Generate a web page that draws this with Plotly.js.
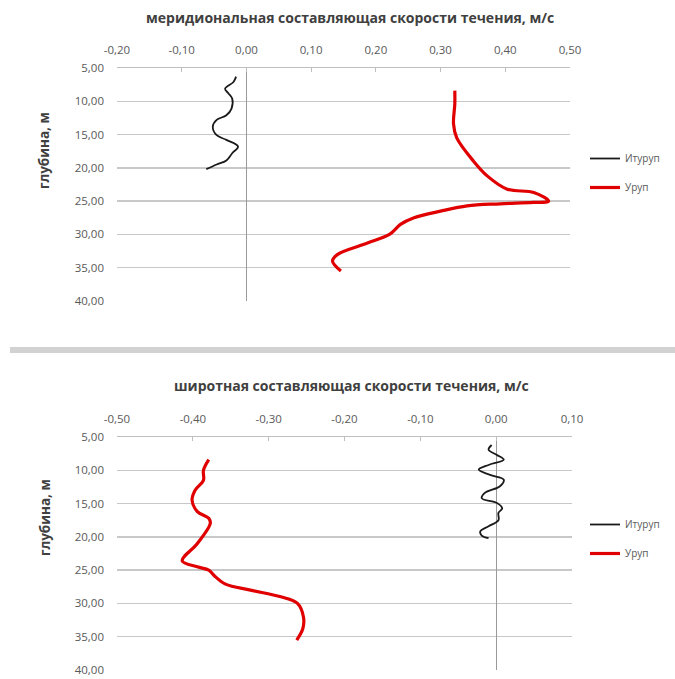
<!DOCTYPE html>
<html>
<head>
<meta charset="utf-8">
<script src="https://cdn.plot.ly/plotly-3.0.1.min.js"></script>
<style>
  html, body { margin: 0; padding: 0; background: #fff; }
  #chart { width: 675px; height: 679px; }
</style>
</head>
<body>
<div id="chart"></div>
<script>
// Meridional component (top panel): depth, m and speed, m/s
const merIturupDepth = [6.3, 7.1, 8.1, 8.8, 9.6, 11.1, 12.1, 12.8, 13.8, 15.1, 15.8, 16.8, 17.8, 18.9, 19.5, 20.2];
const merIturupSpeed = [-0.016, -0.020, -0.033, -0.028, -0.022, -0.023, -0.031, -0.046, -0.052, -0.046, -0.031, -0.013, -0.022, -0.031, -0.046, -0.062];

const merUrupDepth = [8.4, 10.4, 13.4, 15.5, 19.0, 21.2, 23.2, 23.7, 25.0, 25.2, 25.4, 25.7, 26.5, 27.5, 28.5, 30.0, 31.3, 33.0, 34.0, 35.5];
const merUrupSpeed = [0.322, 0.322, 0.320, 0.325, 0.351, 0.372, 0.403, 0.444, 0.467, 0.443, 0.392, 0.341, 0.300, 0.259, 0.238, 0.221, 0.187, 0.141, 0.133, 0.146];

// Zonal component (bottom panel)
const zonIturupDepth = [6.2, 6.9, 7.7, 8.4, 9.2, 9.9, 10.7, 11.4, 12.4, 13.4, 14.2, 14.9, 15.7, 16.4, 17.5, 18.4, 19.2, 19.8, 20.2];
const zonIturupSpeed = [-0.006, -0.010, 0.001, 0.010, -0.010, -0.023, -0.008, 0.010, 0.005, -0.015, -0.019, 0.001, 0.008, 0.003, 0.003, -0.010, -0.021, -0.019, -0.010];

const zonUrupDepth = [8.4, 10.0, 11.5, 13.0, 14.5, 16.2, 17.2, 18.0, 21.0, 23.6, 24.5, 25.0, 25.8, 27.1, 28.0, 29.0, 30.0, 32.1, 33.8, 35.5];
const zonUrupSpeed = [-0.379, -0.386, -0.386, -0.397, -0.401, -0.394, -0.379, -0.377, -0.394, -0.414, -0.394, -0.379, -0.372, -0.357, -0.324, -0.284, -0.262, -0.254, -0.255, -0.263];

const seriesNames = ['Итуруп', 'Уруп'];
const merTicks = [-0.2, -0.1, 0.0, 0.1, 0.2, 0.3, 0.4, 0.5];
const zonTicks = [-0.5, -0.4, -0.3, -0.2, -0.1, 0.0, 0.1];
const depthTicks = [5, 10, 15, 20, 25, 30, 35, 40];

const titleTop = 'меридиональная составляющая скорости течения, м/с';
const titleBottom = 'широтная составляющая скорости течения, м/с';
const depthTitle = 'глубина, м';

const fmt = v => v.toFixed(2).replace('.', ',');

const W = 675, H = 679;
const px = x => x / W;
const py = y => 1 - y / H;

const FONT = 'Open Sans, DejaVu Sans, sans-serif';
const tickFont = {family: FONT, size: 11.5, color: '#595959'};

function line(x, y, name, color, width, xa, ya, legend, group) {
  return {
    type: 'scatter', mode: 'lines', x: x, y: y, name: name,
    xaxis: xa, yaxis: ya, legend: legend, legendgroup: group,
    line: {color: color, width: width, shape: 'spline', smoothing: 1.0},
    hoverinfo: 'skip'
  };
}

const traces = [
  line(merIturupSpeed, merIturupDepth, seriesNames[0], '#1a1a1a', 1.8, 'x', 'y', 'legend', 'a'),
  line(merUrupSpeed, merUrupDepth, seriesNames[1], '#e00000', 3.2, 'x', 'y', 'legend', 'b'),
  line(zonIturupSpeed, zonIturupDepth, seriesNames[0], '#1a1a1a', 1.8, 'x2', 'y2', 'legend2', 'a'),
  line(zonUrupSpeed, zonUrupDepth, seriesNames[1], '#e00000', 3.2, 'x2', 'y2', 'legend2', 'b')
];

function xAxis(range, ticks, domain, anchor) {
  return {
    domain: domain, anchor: anchor, side: 'top', range: range,
    tickvals: ticks, ticktext: ticks.map(fmt), tickfont: tickFont,
    showgrid: false, zeroline: true, zerolinecolor: '#9a9a9a', zerolinewidth: 1,
    showline: true, linecolor: '#bfbfbf', linewidth: 1.5,
    ticks: 'inside', ticklen: 4, tickcolor: '#bfbfbf', ticklabelstandoff: 8,
    fixedrange: true
  };
}

function yAxis(domain, anchor) {
  return {
    domain: domain, anchor: anchor, range: [40, 5], autorange: false,
    tickvals: depthTicks, ticktext: depthTicks.map(fmt), tickfont: tickFont,
    showgrid: true, gridcolor: '#c8c8c8', gridwidth: 1.5,
    zeroline: false, showline: false, ticks: '', ticklabelstandoff: 12,
    fixedrange: true
  };
}

function legend(topY) {
  return {
    x: px(585), y: py(topY), xanchor: 'left', yanchor: 'top',
    font: {family: FONT, size: 10, color: '#595959'},
    bgcolor: 'rgba(0,0,0,0)', traceorder: 'grouped', tracegroupgap: 10,
    itemwidth: 30
  };
}

const titleFont = {family: FONT, size: 14, color: '#404040', weight: 'bold'};
const depthFont = {family: FONT, size: 13.5, color: '#404040', weight: 'bold'};

const layout = {
  width: W, height: H,
  margin: {l: 0, r: 0, t: 0, b: 0},
  paper_bgcolor: '#ffffff', plot_bgcolor: '#ffffff',
  separators: ', ',
  showlegend: true,
  xaxis: xAxis([-0.2, 0.5], merTicks, [px(117), px(570)], 'y'),
  yaxis: yAxis([py(301), py(68)], 'x'),
  xaxis2: xAxis([-0.5, 0.1], zonTicks, [px(117), px(572)], 'y2'),
  yaxis2: yAxis([py(670), py(437)], 'x2'),
  legend: legend(144),
  legend2: legend(510),
  annotations: [
    {text: titleTop, xref: 'paper', yref: 'paper', x: px(350), y: py(17), xanchor: 'center', yanchor: 'middle', showarrow: false, font: titleFont},
    {text: titleBottom, xref: 'paper', yref: 'paper', x: px(352), y: py(385), xanchor: 'center', yanchor: 'middle', showarrow: false, font: titleFont},
    {text: depthTitle, xref: 'paper', yref: 'paper', x: px(44), y: py(150), xanchor: 'center', yanchor: 'middle', textangle: -90, showarrow: false, font: depthFont},
    {text: depthTitle, xref: 'paper', yref: 'paper', x: px(45), y: py(518), xanchor: 'center', yanchor: 'middle', textangle: -90, showarrow: false, font: depthFont}
  ],
  shapes: [
    // divider between the two panels
    {type: 'rect', xref: 'paper', yref: 'paper', x0: px(10), x1: 1, y0: py(353), y1: py(347),
     fillcolor: '#d2d2d2', line: {width: 0}, layer: 'below'}
  ]
};

Plotly.newPlot('chart', traces, layout, {displayModeBar: false, staticPlot: true});
</script>
</body>
</html>
